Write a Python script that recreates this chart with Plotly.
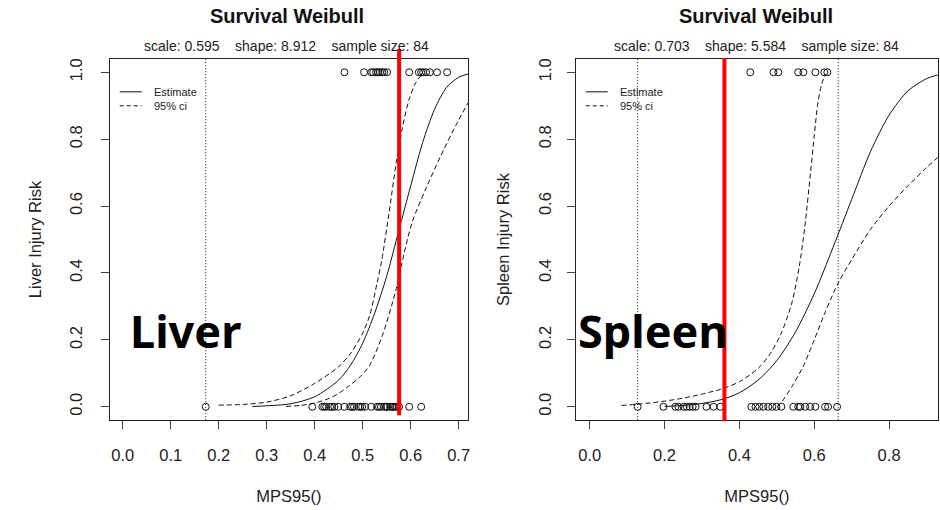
import plotly.graph_objects as go

# ---------------- data ----------------
x_ticks_liver = [0.0, 0.1, 0.2, 0.3, 0.4, 0.5, 0.6, 0.7]
x_ticks_spleen = [0.0, 0.2, 0.4, 0.6, 0.8]
y_ticks = [0.0, 0.2, 0.4, 0.6, 0.8, 1.0]

liver_injured_x = [0.462, 0.503, 0.518, 0.522, 0.528, 0.532, 0.536, 0.541, 0.545, 0.551,
                   0.597, 0.617, 0.622, 0.626, 0.632, 0.640, 0.655, 0.676]
liver_uninjured_x = [0.173, 0.395, 0.416, 0.420, 0.424, 0.432, 0.436, 0.441, 0.449, 0.462,
                     0.474, 0.478, 0.482, 0.491, 0.495, 0.499, 0.505, 0.518, 0.530, 0.534,
                     0.538, 0.545, 0.549, 0.551, 0.557, 0.561, 0.563, 0.567, 0.570, 0.576,
                     0.597, 0.622]

liver_est_x = [0.27, 0.30, 0.35, 0.40, 0.45, 0.475, 0.50, 0.525, 0.55, 0.575, 0.60, 0.625,
               0.65, 0.675, 0.70, 0.72]
liver_est_y = [0.001, 0.003, 0.009, 0.03, 0.08, 0.125, 0.19, 0.28, 0.39, 0.525, 0.66, 0.79,
               0.89, 0.955, 0.985, 0.995]
liver_upper_x = [0.20, 0.25, 0.30, 0.35, 0.40, 0.45, 0.475, 0.50, 0.515, 0.53, 0.54, 0.555,
                 0.57, 0.583, 0.597, 0.611, 0.625]
liver_upper_y = [0.005, 0.007, 0.014, 0.033, 0.07, 0.12, 0.16, 0.22, 0.275, 0.37, 0.44, 0.58,
                 0.73, 0.835, 0.92, 0.97, 0.995]
liver_lower_x = [0.34, 0.37, 0.40, 0.43, 0.45, 0.472, 0.495, 0.514, 0.541, 0.57, 0.582, 0.603,
                 0.632, 0.663, 0.694, 0.72]
liver_lower_y = [0.001, 0.004, 0.011, 0.025, 0.04, 0.063, 0.09, 0.123, 0.213, 0.353, 0.431,
                 0.551, 0.653, 0.751, 0.841, 0.91]

spleen_injured_x = [0.429, 0.491, 0.504, 0.557, 0.571, 0.603, 0.627, 0.635]
spleen_uninjured_x = [0.128, 0.197, 0.229, 0.237, 0.251, 0.259, 0.267, 0.275, 0.283, 0.312,
                      0.331, 0.349, 0.432, 0.443, 0.453, 0.464, 0.477, 0.488, 0.499, 0.512,
                      0.544, 0.557, 0.563, 0.576, 0.589, 0.603, 0.629, 0.637, 0.661]

spleen_est_x = [0.20, 0.25, 0.30, 0.35, 0.40, 0.45, 0.50, 0.55, 0.60, 0.65, 0.70, 0.75, 0.80,
                0.85, 0.90, 0.93]
spleen_est_y = [0.001, 0.004, 0.010, 0.021, 0.042, 0.08, 0.138, 0.224, 0.338, 0.476, 0.62,
                0.762, 0.872, 0.944, 0.981, 0.992]
spleen_upper_x = [0.085, 0.15, 0.20, 0.25, 0.30, 0.36, 0.40, 0.45, 0.48, 0.51, 0.54, 0.56,
                  0.575, 0.59, 0.60, 0.61, 0.62, 0.63]
spleen_upper_y = [0.004, 0.010, 0.017, 0.026, 0.038, 0.056, 0.075, 0.115, 0.155, 0.215, 0.31,
                  0.42, 0.54, 0.70, 0.81, 0.91, 0.965, 0.995]
spleen_lower_x = [0.50, 0.51, 0.54, 0.57, 0.60, 0.63, 0.664, 0.70, 0.75, 0.80, 0.85, 0.90, 0.93]
spleen_lower_y = [0.0, 0.01, 0.06, 0.12, 0.20, 0.285, 0.37, 0.44, 0.53, 0.60, 0.66, 0.715, 0.745]

liver_vlines = [0.173]
spleen_vlines = [0.128, 0.664]
liver_threshold = [0.576]
spleen_threshold = [0.36]

liver_sub = "scale: 0.595\u00a0\u00a0\u00a0\u00a0shape: 8.912\u00a0\u00a0\u00a0\u00a0sample size: 84"
spleen_sub = "scale: 0.703\u00a0\u00a0\u00a0\u00a0shape: 5.584\u00a0\u00a0\u00a0\u00a0sample size: 84"

# ---------------- figure ----------------
W, H = 940, 510
FONT = "Liberation Sans, Arial, sans-serif"
fig = go.Figure()

def px(x):
    return x / W

def py(y):
    return (H - y) / H

panels = [
    dict(xa="x", ya="y", inj=liver_injured_x, uninj=liver_uninjured_x,
         est=(liver_est_x, liver_est_y), up=(liver_upper_x, liver_upper_y),
         lo=(liver_lower_x, liver_lower_y)),
    dict(xa="x2", ya="y2", inj=spleen_injured_x, uninj=spleen_uninjured_x,
         est=(spleen_est_x, spleen_est_y), up=(spleen_upper_x, spleen_upper_y),
         lo=(spleen_lower_x, spleen_lower_y)),
]

for p in panels:
    fig.add_trace(go.Scatter(x=p["inj"], y=[1] * len(p["inj"]), mode="markers",
                             xaxis=p["xa"], yaxis=p["ya"],
                             marker=dict(symbol="circle-open", size=7, color="#111",
                                         line=dict(width=1))))
    fig.add_trace(go.Scatter(x=p["uninj"], y=[0] * len(p["uninj"]), mode="markers",
                             xaxis=p["xa"], yaxis=p["ya"],
                             marker=dict(symbol="circle-open", size=7, color="#111",
                                         line=dict(width=1))))
    fig.add_trace(go.Scatter(x=p["est"][0], y=p["est"][1], mode="lines",
                             xaxis=p["xa"], yaxis=p["ya"],
                             line=dict(color="#111", width=1, shape="spline", smoothing=0.8)))
    for key in ("up", "lo"):
        fig.add_trace(go.Scatter(x=p[key][0], y=p[key][1], mode="lines",
                                 xaxis=p["xa"], yaxis=p["ya"],
                                 line=dict(color="#111", width=1, dash="5px,3px",
                                           shape="spline", smoothing=0.8)))

# dotted vertical lines
for v in liver_vlines:
    fig.add_shape(type="line", xref="x", yref="y domain", x0=v, x1=v, y0=0, y1=1,
                  line=dict(color="#111", width=1, dash="1px,2px"))
for v in spleen_vlines:
    fig.add_shape(type="line", xref="x2", yref="y2 domain", x0=v, x1=v, y0=0, y1=1,
                  line=dict(color="#111", width=1, dash="1px,2px"))

# red threshold lines
for v in liver_threshold:
    fig.add_shape(type="line", xref="x", yref="paper", x0=v, x1=v, y0=py(415), y1=py(48),
                  line=dict(color="#ff0000", width=4))
for v in spleen_threshold:
    fig.add_shape(type="line", xref="x2", yref="paper", x0=v, x1=v, y0=py(421), y1=py(57),
                  line=dict(color="#ff0000", width=4))

axis_common = dict(showgrid=False, zeroline=False, showline=True, mirror=True,
                   linecolor="#222", linewidth=1, ticks="outside", ticklen=8,
                   tickcolor="#444", tickwidth=1,
                   tickfont=dict(family=FONT, size=16.5, color="#222"))

fig.update_layout(
    width=W, height=H, margin=dict(l=0, r=0, t=0, b=0),
    paper_bgcolor="white", plot_bgcolor="white", showlegend=False,
    xaxis=dict(domain=[px(110), px(469)], range=[-0.027, 0.7195], anchor="y",
               tickvals=x_ticks_liver, ticktext=[f"{t:.1f}" for t in x_ticks_liver],
               ticklabelstandoff=12,
               title=dict(text="MPS95()", standoff=27,
                          font=dict(family=FONT, size=16.5, color="#222")),
               **axis_common),
    yaxis=dict(domain=[py(420), py(58)], range=[-0.04, 1.04], anchor="x",
               tickvals=y_ticks, ticktext=[f"{t:.1f}" for t in y_ticks], tickangle=-90,
               ticklabelstandoff=12,
               title=dict(text="Liver Injury Risk", standoff=21,
                          font=dict(family=FONT, size=16.5, color="#222")),
               **axis_common),
    xaxis2=dict(domain=[px(577), 1.0], range=[-0.0373, 0.9307], anchor="y2",
                tickvals=x_ticks_spleen, ticktext=[f"{t:.1f}" for t in x_ticks_spleen],
                ticklabelstandoff=12,
                title=dict(text="MPS95()", standoff=27,
                           font=dict(family=FONT, size=16.5, color="#222")),
                **axis_common),
    yaxis2=dict(domain=[py(420), py(58)], range=[-0.04, 1.04], anchor="x2",
                tickvals=y_ticks, ticktext=[f"{t:.1f}" for t in y_ticks], tickangle=-90,
                ticklabelstandoff=9,
                title=dict(text="Spleen Injury Risk", standoff=22,
                           font=dict(family=FONT, size=16.5, color="#222")),
                **axis_common),
)

ann = []
for cx, sub in ((287.5, liver_sub), (758, spleen_sub)):
    ann.append(dict(text="<b>Survival Weibull</b>", x=px(cx), y=py(15), xref="paper",
                    yref="paper", xanchor="center", yanchor="middle", showarrow=False,
                    font=dict(family=FONT, size=20, color="#111")))
    ann.append(dict(text=sub, x=px(cx), y=py(45), xref="paper", yref="paper",
                    xanchor="center", yanchor="middle", showarrow=False,
                    font=dict(family=FONT, size=14, color="#222")))

# manual legends (no box, like R bty="n")
for x0 in (120, 587):
    fig.add_shape(type="line", xref="paper", yref="paper", x0=px(x0), x1=px(x0 + 22),
                  y0=py(91), y1=py(91), line=dict(color="#111", width=1))
    fig.add_shape(type="line", xref="paper", yref="paper", x0=px(x0), x1=px(x0 + 22),
                  y0=py(105), y1=py(105), line=dict(color="#111", width=1, dash="4px,3px"))
    ann.append(dict(text="Estimate", x=px(x0 + 32), y=py(91), xref="paper", yref="paper",
                    xanchor="left", yanchor="middle", showarrow=False,
                    font=dict(family=FONT, size=11, color="#222")))
    ann.append(dict(text="95% ci", x=px(x0 + 32), y=py(105), xref="paper", yref="paper",
                    xanchor="left", yanchor="middle", showarrow=False,
                    font=dict(family=FONT, size=11, color="#222")))

# big organ labels
for x0, label in ((128, "Liver"), (577, "Spleen")):
    ann.append(dict(text=f"<b>{label}</b>", x=px(x0), y=py(330), xref="paper", yref="paper",
                    xanchor="left", yanchor="middle", showarrow=False,
                    font=dict(family="Noto Sans", size=45, color="#000")))

fig.update_layout(annotations=ann)
fig.write_html("out.html")
